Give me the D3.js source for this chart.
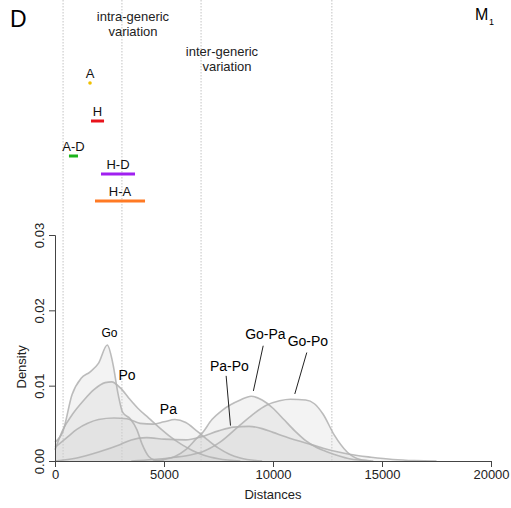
<!DOCTYPE html>
<html>
<head>
<meta charset="utf-8">
<script src="https://cdn.jsdelivr.net/npm/d3@7"></script>
<style>
  html, body { margin: 0; padding: 0; background: #fff; }
  svg text { font-family: "Liberation Sans", Arial, sans-serif; }
</style>
</head>
<body>
<div id="chart"></div>
<script>
// distances (x) sampled for each density curve, with density values
var goX  = [0, 370, 780, 1200, 1600, 2000, 2400, 2650, 2900, 3100, 3450, 3750, 4000, 4300, 4600, 5000];
var goY  = [0.0025, 0.0040, 0.0088, 0.0110, 0.0118, 0.0130, 0.0154, 0.0130, 0.0088, 0.0065, 0.0056, 0.0042, 0.0022, 0.0006, 0.0001, 0];

var poX  = [0, 370, 800, 1300, 1800, 2300, 2600, 3000, 3400, 3800, 4300, 4800, 5300, 5800, 6300, 6800, 7500, 8500];
var poY  = [0.0015, 0.0042, 0.0062, 0.0080, 0.0095, 0.0104, 0.0105, 0.0097, 0.0083, 0.0070, 0.0057, 0.0044, 0.0032, 0.0022, 0.0014, 0.0008, 0.0003, 0];

var paX  = [0, 500, 1000, 1500, 2000, 2700, 3300, 3900, 4500, 5000, 5500, 6000, 6500, 7000, 7500, 8000, 8500, 9500];
var paY  = [0.0018, 0.0030, 0.0042, 0.0050, 0.0055, 0.0057, 0.0056, 0.0050, 0.0049, 0.0052, 0.0055, 0.0051, 0.0040, 0.0028, 0.0017, 0.0009, 0.0004, 0];

var papoX = [0, 1000, 2000, 3000, 3500, 4200, 5000, 6000, 6700, 7500, 8200, 8900, 9500, 10000, 10800, 11500, 12300, 13000, 13500, 14500, 15500, 16500, 17500];
var papoY = [0, 0.0004, 0.0012, 0.0022, 0.0028, 0.0031, 0.0029, 0.0028, 0.0032, 0.0040, 0.0045, 0.0046, 0.0043, 0.0038, 0.0030, 0.0024, 0.0017, 0.0012, 0.0009, 0.0005, 0.0002, 0.00005, 0];

var gopaX = [4500, 5000, 5500, 6000, 6500, 6750, 7200, 7700, 8500, 9000, 9500, 10000, 10500, 11000, 11500, 12000, 12500, 13000, 13500, 14500];
var gopaY = [0, 0.0002, 0.0006, 0.0015, 0.0030, 0.0037, 0.0055, 0.0068, 0.0081, 0.0086, 0.0081, 0.0070, 0.0055, 0.0040, 0.0027, 0.0018, 0.0012, 0.0007, 0.0003, 0];

var gopoX = [3500, 4500, 5500, 6200, 6740, 7570, 8500, 9170, 9700, 10300, 10800, 11500, 11900, 12300, 12800, 13400, 14000, 14600];
var gopoY = [0, 0.0002, 0.0005, 0.0008, 0.0012, 0.0025, 0.0048, 0.0064, 0.0074, 0.0080, 0.0082, 0.0081, 0.0076, 0.0062, 0.0035, 0.0012, 0.0002, 0];

var curveNames = ["Go", "Po", "Pa", "Pa-Po", "Go-Pa", "Go-Po"];

// range bars above the plot
var rangeNames  = ["A", "H", "A-D", "H-D", "H-A"];
var rangeMin    = [1606, 1650, 640, 2110, 1835];
var rangeMax    = [1606, 2250, 1055, 3670, 4130];
var rangeColors = ["#f0c000", "#e8141c", "#1cb41c", "#a020f0", "#ff7a24"];

// dotted boundaries
var boundaries = [370, 3070, 6700, 12700];

var xTicks = [0, 5000, 10000, 15000, 20000];
var yTicks = [0, 0.01, 0.02, 0.03];

var W = 511, H = 508;
var svg = d3.select("#chart").append("svg")
	.attr("width", W)
	.attr("height", H);

var x = d3.scaleLinear().domain([0, 20000]).range([55, 491]);
var y = d3.scaleLinear().domain([0, 0.03]).range([461, 235]);

// boundaries
svg.selectAll("line.bound")
	.data(boundaries)
	.enter().append("line")
	.attr("class", "bound")
	.attr("x1", function(d) { return x(d); })
	.attr("x2", function(d) { return x(d); })
	.attr("y1", 0)
	.attr("y2", y(0))
	.style("stroke", "#b4b4b4")
	.style("stroke-width", 0.8)
	.style("stroke-dasharray", "1.5,1.5");

// density curves
var series = [
	{ xs: goX, ys: goY }, { xs: poX, ys: poY }, { xs: paX, ys: paY },
	{ xs: papoX, ys: papoY }, { xs: gopaX, ys: gopaY }, { xs: gopoX, ys: gopoY }
];

var area = d3.area()
	.x(function(d) { return x(d[0]); })
	.y0(y(0))
	.y1(function(d) { return y(d[1]); })
	.curve(d3.curveMonotoneX);
var line = area.lineY1();

series.forEach(function(s) {
	var pts = d3.zip(s.xs, s.ys);
	svg.append("path")
		.attr("d", area(pts))
		.style("fill", "#cfcfcf")
		.style("fill-opacity", 0.25);
});
series.forEach(function(s) {
	var pts = d3.zip(s.xs, s.ys);
	svg.append("path")
		.attr("d", line(pts))
		.style("fill", "none")
		.style("stroke", "#b0b0b0")
		.style("stroke-opacity", 0.85)
		.style("stroke-width", 1.6);
});

// labels on intra-generic curves
var labelPos = [[2500, 0.0164], [3300, 0.0108], [5200, 0.0063]];
svg.selectAll("text.intra")
	.data(labelPos)
	.enter().append("text")
	.attr("x", function(d) { return x(d[0]); })
	.attr("y", function(d) { return y(d[1]); })
	.attr("text-anchor", "middle")
	.style("font-size", function(d, i) { return i == 0 ? "12px" : "14px"; })
	.text(function(d, i) { return curveNames[i]; });

// labels with pointers for inter-generic curves
var pointerLabel = [[8000, 0.0120], [9650, 0.0162], [11600, 0.0153]];
var pointerFrom  = [[7850, 0.0113], [9550, 0.0153], [11550, 0.0144]];
var pointerTo    = [[8050, 0.0047], [9100, 0.0093], [11000, 0.0089]];
for (var i = 0; i < 3; i++) {
	svg.append("text")
		.attr("x", x(pointerLabel[i][0]))
		.attr("y", y(pointerLabel[i][1]))
		.attr("text-anchor", "middle")
		.style("font-size", "14px")
		.text(curveNames[i + 3]);
	svg.append("line")
		.attr("x1", x(pointerFrom[i][0]))
		.attr("y1", y(pointerFrom[i][1]))
		.attr("x2", x(pointerTo[i][0]))
		.attr("y2", y(pointerTo[i][1]))
		.style("stroke", "#222")
		.style("stroke-width", 1);
}

// axes
var xAxis = d3.axisBottom(x).tickValues(xTicks).tickSize(6).tickPadding(3).tickFormat(d3.format("d"));
var gx = svg.append("g").attr("transform", "translate(0," + y(0) + ")").call(xAxis);
var yAxis = d3.axisLeft(y).tickValues(yTicks).tickSize(6).tickPadding(4).tickFormat(d3.format(".2f"));
var gy = svg.append("g").attr("transform", "translate(" + x(0) + ",0)").call(yAxis);
[gx, gy].forEach(function(g) {
	g.select(".domain").attr("stroke", "#444");
	g.selectAll(".tick line").attr("stroke", "#444");
	g.selectAll(".tick text")
		.style("font-family", "'Liberation Sans', Arial, sans-serif")
		.style("font-size", "13px")
		.attr("fill", "#222");
});
gy.selectAll(".tick text")
	.attr("transform", function() {
		return "rotate(-90," + (-10) + ",0)";
	})
	.attr("x", -10)
	.attr("dy", "0.32em")
	.attr("dx", 0)
	.attr("text-anchor", "middle")
	.attr("y", -5);

svg.append("text")
	.attr("x", x(10000))
	.attr("y", 499)
	.attr("text-anchor", "middle")
	.style("font-size", "13px")
	.attr("fill", "#222")
	.text("Distances");
svg.append("text")
	.attr("transform", "translate(26," + y(0.0125) + ") rotate(-90)")
	.attr("text-anchor", "middle")
	.style("font-size", "13px")
	.attr("fill", "#222")
	.text("Density");

// range bars
var rowY = [83, 121, 156, 174, 201];
for (var j = 0; j < rangeNames.length; j++) {
	if (rangeMin[j] == rangeMax[j]) {
		svg.append("circle")
			.attr("cx", x(rangeMin[j]))
			.attr("cy", rowY[j])
			.attr("r", 1.8)
			.style("fill", rangeColors[j]);
	} else {
		svg.append("line")
			.attr("x1", x(rangeMin[j]))
			.attr("x2", x(rangeMax[j]))
			.attr("y1", rowY[j])
			.attr("y2", rowY[j])
			.style("stroke", rangeColors[j])
			.style("stroke-width", 3);
	}
	svg.append("text")
		.attr("x", x((rangeMin[j] + rangeMax[j]) / 2))
		.attr("y", rowY[j] - 5)
		.attr("text-anchor", "middle")
		.style("font-size", "13px")
		.attr("fill", "#111")
		.text(rangeNames[j]);
}

// headings
svg.append("text").attr("x", 10).attr("y", 27)
	.style("font-size", "23px").text("D");
svg.append("text").attr("x", 475).attr("y", 20)
	.style("font-size", "16px").text("M");
svg.append("text").attr("x", 489).attr("y", 25)
	.style("font-size", "9px").text("1");
svg.append("text").attr("x", 133).attr("y", 21).attr("text-anchor", "middle")
	.style("font-size", "13px").attr("fill", "#222").text("intra-generic");
svg.append("text").attr("x", 133).attr("y", 36).attr("text-anchor", "middle")
	.style("font-size", "13px").attr("fill", "#222").text("variation");
svg.append("text").attr("x", 222).attr("y", 56).attr("text-anchor", "middle")
	.style("font-size", "13px").attr("fill", "#222").text("inter-generic");
svg.append("text").attr("x", 227).attr("y", 71).attr("text-anchor", "middle")
	.style("font-size", "13px").attr("fill", "#222").text("variation");
</script>
</body>
</html>
